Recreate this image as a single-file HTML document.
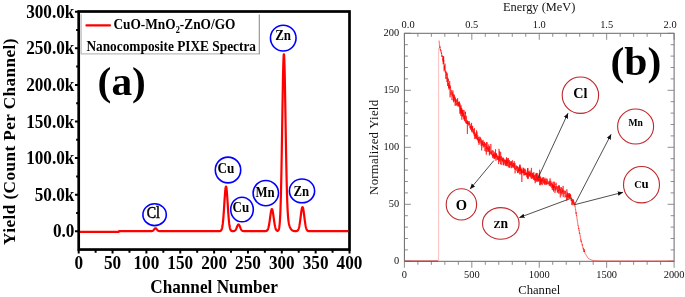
<!DOCTYPE html><html><head><meta charset="utf-8"><style>
html,body{margin:0;padding:0;background:#fff;width:685px;height:297px;overflow:hidden}
svg{display:block;will-change:transform}
.b{font-family:"Liberation Serif",serif;font-weight:bold;fill:#000}
.r{font-family:"Liberation Serif",serif;fill:#111}
.k{font-family:"Liberation Serif",serif;fill:#000;stroke:#000;stroke-width:0.45}
</style></head><body>
<svg width="685" height="297" viewBox="0 0 685 297">
<rect x="78.70" y="11.5" width="270.80" height="238.05" fill="none" stroke="#000" stroke-width="2.7"/>
<path d="M74.95,231.30H78.7 M76.15,213.00H78.7 M74.95,194.70H78.7 M76.15,176.40H78.7 M74.95,158.10H78.7 M76.15,139.80H78.7 M74.95,121.50H78.7 M76.15,103.20H78.7 M74.95,84.90H78.7 M76.15,66.60H78.7 M74.95,48.30H78.7 M76.15,30.00H78.7 M74.95,11.70H78.7" stroke="#000" stroke-width="2" fill="none"/>
<path d="M78.70,249.55V253.40 M95.62,249.55V252.70 M112.55,249.55V253.40 M129.47,249.55V252.70 M146.40,249.55V253.40 M163.32,249.55V252.70 M180.25,249.55V253.40 M197.18,249.55V252.70 M214.10,249.55V253.40 M231.02,249.55V252.70 M247.95,249.55V253.40 M264.88,249.55V252.70 M281.80,249.55V253.40 M298.73,249.55V252.70 M315.65,249.55V253.40 M332.57,249.55V252.70 M349.50,249.55V253.40" stroke="#000" stroke-width="2" fill="none"/>
<text class="b" transform="translate(74.40,237.30) scale(1,1.14)" font-size="17.2" text-anchor="end">0.0</text>
<text class="b" transform="translate(74.40,200.70) scale(1,1.14)" font-size="17.2" text-anchor="end">50.0k</text>
<text class="b" transform="translate(74.40,164.10) scale(1,1.14)" font-size="17.2" text-anchor="end">100.0k</text>
<text class="b" transform="translate(74.40,127.50) scale(1,1.14)" font-size="17.2" text-anchor="end">150.0k</text>
<text class="b" transform="translate(74.40,90.90) scale(1,1.14)" font-size="17.2" text-anchor="end">200.0k</text>
<text class="b" transform="translate(74.40,54.30) scale(1,1.14)" font-size="17.2" text-anchor="end">250.0k</text>
<text class="b" transform="translate(74.40,17.70) scale(1,1.14)" font-size="17.2" text-anchor="end">300.0k</text>
<text class="b" transform="translate(78.70,269.10) scale(1,1.14)" font-size="17.2" text-anchor="middle">0</text>
<text class="b" transform="translate(112.55,269.10) scale(1,1.14)" font-size="17.2" text-anchor="middle">50</text>
<text class="b" transform="translate(146.40,269.10) scale(1,1.14)" font-size="17.2" text-anchor="middle">100</text>
<text class="b" transform="translate(180.25,269.10) scale(1,1.14)" font-size="17.2" text-anchor="middle">150</text>
<text class="b" transform="translate(214.10,269.10) scale(1,1.14)" font-size="17.2" text-anchor="middle">200</text>
<text class="b" transform="translate(247.95,269.10) scale(1,1.14)" font-size="17.2" text-anchor="middle">250</text>
<text class="b" transform="translate(281.80,269.10) scale(1,1.14)" font-size="17.2" text-anchor="middle">300</text>
<text class="b" transform="translate(315.65,269.10) scale(1,1.14)" font-size="17.2" text-anchor="middle">350</text>
<text class="b" transform="translate(349.50,269.10) scale(1,1.14)" font-size="17.2" text-anchor="middle">400</text>
<text class="b" transform="translate(214.00,292.90) scale(1,1.14)" font-size="17.2" text-anchor="middle">Channel Number</text>
<text class="b" transform="translate(15.0,141.7) rotate(-90)" font-size="17.2" text-anchor="middle" textLength="206.5" lengthAdjust="spacing">Yield (Count Per Channel)</text>
<path d="M81.1,14.3 V53.9 H259.3" stroke="#bdbdbd" stroke-width="1.3" fill="none"/>
<path d="M259.3,14.5 V54.2" stroke="#8e8e8e" stroke-width="1.1" fill="none"/>
<path d="M86.4,25.4 H110" stroke="#f00" stroke-width="2.1" stroke-linecap="round"/>
<text class="b" transform="translate(113.40,28.90) scale(1,1.17)" font-size="13.35" text-anchor="start">CuO-MnO<tspan font-size="8.3" dy="3.4">2</tspan><tspan dy="-3.4">-ZnO/GO</tspan></text>
<text class="b" transform="translate(86.40,50.50) scale(1,1.14)" font-size="13.35" text-anchor="start">Nanocomposite PIXE Spectra</text>
<text class="b" transform="translate(97.6,94.9) scale(1.035,1)" font-size="40">(a)</text>
<path d="M80.00,231.90 L80.25,231.90 L80.50,231.90 L80.75,231.90 L81.00,231.90 L81.25,231.90 L81.50,231.90 L81.75,231.90 L82.00,231.90 L82.25,231.90 L82.50,231.90 L82.75,231.90 L83.00,231.90 L83.25,231.90 L83.50,231.90 L83.75,231.90 L84.00,231.90 L84.25,231.90 L84.50,231.90 L84.75,231.90 L85.00,231.90 L85.25,231.90 L85.50,231.90 L85.75,231.90 L86.00,231.90 L86.25,231.90 L86.50,231.90 L86.75,231.90 L87.00,231.90 L87.25,231.90 L87.50,231.90 L87.75,231.90 L88.00,231.90 L88.25,231.90 L88.50,231.90 L88.75,231.90 L89.00,231.90 L89.25,231.90 L89.50,231.90 L89.75,231.90 L90.00,231.90 L90.25,231.90 L90.50,231.90 L90.75,231.90 L91.00,231.90 L91.25,231.90 L91.50,231.90 L91.75,231.90 L92.00,231.90 L92.25,231.90 L92.50,231.90 L92.75,231.90 L93.00,231.90 L93.25,231.90 L93.50,231.90 L93.75,231.90 L94.00,231.90 L94.25,231.90 L94.50,231.90 L94.75,231.90 L95.00,231.90 L95.25,231.90 L95.50,231.90 L95.75,231.90 L96.00,231.90 L96.25,231.90 L96.50,231.90 L96.75,231.90 L97.00,231.90 L97.25,231.90 L97.50,231.90 L97.75,231.90 L98.00,231.90 L98.25,231.90 L98.50,231.90 L98.75,231.90 L99.00,231.90 L99.25,231.90 L99.50,231.90 L99.75,231.90 L100.00,231.90 L100.25,231.90 L100.50,231.90 L100.75,231.90 L101.00,231.90 L101.25,231.90 L101.50,231.90 L101.75,231.90 L102.00,231.90 L102.25,231.90 L102.50,231.90 L102.75,231.90 L103.00,231.90 L103.25,231.90 L103.50,231.90 L103.75,231.90 L104.00,231.90 L104.25,231.90 L104.50,231.90 L104.75,231.90 L105.00,231.90 L105.25,231.90 L105.50,231.90 L105.75,231.90 L106.00,231.90 L106.25,231.90 L106.50,231.90 L106.75,231.90 L107.00,231.90 L107.25,231.90 L107.50,231.90 L107.75,231.90 L108.00,231.90 L108.25,231.90 L108.50,231.90 L108.75,231.90 L109.00,231.90 L109.25,231.90 L109.50,231.90 L109.75,231.90 L110.00,231.90 L110.25,231.90 L110.50,231.90 L110.75,231.90 L111.00,231.90 L111.25,231.90 L111.50,231.90 L111.75,231.90 L112.00,231.90 L112.25,231.90 L112.50,231.90 L112.75,231.90 L113.00,231.90 L113.25,231.90 L113.50,231.90 L113.75,231.90 L114.00,231.90 L114.25,231.90 L114.50,231.90 L114.75,231.90 L115.00,231.90 L115.25,231.90 L115.50,231.90 L115.75,231.90 L116.00,231.90 L116.25,231.90 L116.50,231.90 L116.75,231.90 L117.00,231.90 L117.25,231.90 L117.50,231.90 L117.75,231.90 L118.00,231.90 L118.25,231.90 L118.50,231.90 L118.75,231.90 L119.00,231.15 L119.25,231.15 L119.50,231.15 L119.75,231.15 L120.00,231.15 L120.25,231.15 L120.50,231.15 L120.75,231.15 L121.00,231.15 L121.25,231.15 L121.50,231.15 L121.75,231.15 L122.00,231.15 L122.25,231.15 L122.50,231.15 L122.75,231.15 L123.00,231.15 L123.25,231.15 L123.50,231.15 L123.75,231.15 L124.00,231.15 L124.25,231.15 L124.50,231.15 L124.75,231.15 L125.00,231.15 L125.25,231.15 L125.50,231.15 L125.75,231.15 L126.00,231.15 L126.25,231.15 L126.50,231.15 L126.75,231.15 L127.00,231.15 L127.25,231.15 L127.50,231.15 L127.75,231.15 L128.00,231.15 L128.25,231.15 L128.50,231.15 L128.75,231.15 L129.00,231.15 L129.25,231.15 L129.50,231.15 L129.75,231.15 L130.00,231.15 L130.25,231.15 L130.50,231.15 L130.75,231.15 L131.00,231.15 L131.25,231.15 L131.50,231.15 L131.75,231.15 L132.00,231.15 L132.25,231.15 L132.50,231.15 L132.75,231.15 L133.00,231.15 L133.25,231.15 L133.50,231.15 L133.75,231.15 L134.00,231.15 L134.25,231.15 L134.50,231.15 L134.75,231.15 L135.00,231.15 L135.25,231.15 L135.50,231.15 L135.75,231.15 L136.00,231.15 L136.25,231.15 L136.50,231.15 L136.75,231.15 L137.00,231.15 L137.25,231.15 L137.50,231.15 L137.75,231.15 L138.00,231.15 L138.25,231.15 L138.50,231.15 L138.75,231.15 L139.00,231.15 L139.25,231.15 L139.50,231.15 L139.75,231.15 L140.00,231.15 L140.25,231.15 L140.50,231.15 L140.75,231.15 L141.00,231.15 L141.25,231.15 L141.50,231.15 L141.75,231.15 L142.00,231.15 L142.25,231.15 L142.50,231.15 L142.75,231.15 L143.00,231.15 L143.25,231.15 L143.50,231.15 L143.75,231.15 L144.00,231.15 L144.25,231.15 L144.50,231.15 L144.75,231.15 L145.00,231.15 L145.25,231.15 L145.50,231.15 L145.75,231.15 L146.00,231.15 L146.25,231.15 L146.50,231.15 L146.75,231.15 L147.00,231.15 L147.25,231.15 L147.50,231.15 L147.75,231.15 L148.00,231.15 L148.25,231.15 L148.50,231.15 L148.75,231.15 L149.00,231.15 L149.25,231.15 L149.50,231.15 L149.75,231.15 L150.00,231.15 L150.25,231.15 L150.50,231.15 L150.75,231.14 L151.00,231.13 L151.25,231.12 L151.50,231.10 L151.75,231.07 L152.00,231.02 L152.25,230.95 L152.50,230.86 L152.75,230.73 L153.00,230.56 L153.25,230.35 L153.50,230.10 L153.75,229.82 L154.00,229.52 L154.25,229.20 L154.50,228.90 L154.75,228.64 L155.00,228.43 L155.25,228.30 L155.50,228.25 L155.75,228.30 L156.00,228.43 L156.25,228.64 L156.50,228.90 L156.75,229.20 L157.00,229.52 L157.25,229.82 L157.50,230.10 L157.75,230.35 L158.00,230.56 L158.25,230.73 L158.50,230.86 L158.75,230.95 L159.00,231.02 L159.25,231.07 L159.50,231.10 L159.75,231.12 L160.00,231.13 L160.25,231.14 L160.50,231.15 L160.75,231.15 L161.00,231.15 L161.25,231.15 L161.50,231.15 L161.75,231.15 L162.00,231.15 L162.25,231.15 L162.50,231.15 L162.75,231.15 L163.00,231.15 L163.25,231.15 L163.50,231.15 L163.75,231.15 L164.00,231.15 L164.25,231.15 L164.50,231.15 L164.75,231.15 L165.00,231.15 L165.25,231.15 L165.50,231.15 L165.75,231.15 L166.00,231.15 L166.25,231.15 L166.50,231.15 L166.75,231.15 L167.00,231.15 L167.25,231.15 L167.50,231.15 L167.75,231.15 L168.00,231.15 L168.25,231.15 L168.50,231.15 L168.75,231.15 L169.00,231.15 L169.25,231.15 L169.50,231.15 L169.75,231.15 L170.00,231.15 L170.25,231.15 L170.50,231.15 L170.75,231.15 L171.00,231.15 L171.25,231.15 L171.50,231.15 L171.75,231.15 L172.00,231.15 L172.25,231.15 L172.50,231.15 L172.75,231.15 L173.00,231.15 L173.25,231.15 L173.50,231.15 L173.75,231.15 L174.00,231.15 L174.25,231.15 L174.50,231.15 L174.75,231.15 L175.00,231.15 L175.25,231.15 L175.50,231.15 L175.75,231.15 L176.00,231.15 L176.25,231.15 L176.50,231.15 L176.75,231.15 L177.00,231.15 L177.25,231.15 L177.50,231.15 L177.75,231.15 L178.00,231.15 L178.25,231.15 L178.50,231.15 L178.75,231.15 L179.00,231.15 L179.25,231.15 L179.50,231.15 L179.75,231.15 L180.00,231.15 L180.25,231.15 L180.50,231.15 L180.75,231.15 L181.00,231.15 L181.25,231.15 L181.50,231.15 L181.75,231.15 L182.00,231.15 L182.25,231.15 L182.50,231.15 L182.75,231.15 L183.00,231.15 L183.25,231.15 L183.50,231.15 L183.75,231.15 L184.00,231.15 L184.25,231.15 L184.50,231.15 L184.75,231.15 L185.00,231.15 L185.25,231.15 L185.50,231.15 L185.75,231.15 L186.00,231.15 L186.25,231.15 L186.50,231.15 L186.75,231.15 L187.00,231.15 L187.25,231.15 L187.50,231.15 L187.75,231.15 L188.00,231.15 L188.25,231.15 L188.50,231.15 L188.75,231.15 L189.00,231.15 L189.25,231.15 L189.50,231.15 L189.75,231.15 L190.00,231.15 L190.25,231.15 L190.50,231.15 L190.75,231.15 L191.00,231.15 L191.25,231.15 L191.50,231.15 L191.75,231.15 L192.00,231.15 L192.25,231.15 L192.50,231.15 L192.75,231.15 L193.00,231.15 L193.25,231.15 L193.50,231.15 L193.75,231.15 L194.00,231.15 L194.25,231.15 L194.50,231.15 L194.75,231.15 L195.00,231.15 L195.25,231.15 L195.50,231.15 L195.75,231.15 L196.00,231.15 L196.25,231.15 L196.50,231.15 L196.75,231.15 L197.00,231.15 L197.25,231.15 L197.50,231.15 L197.75,231.15 L198.00,231.15 L198.25,231.15 L198.50,231.15 L198.75,231.15 L199.00,231.15 L199.25,231.15 L199.50,231.15 L199.75,231.15 L200.00,231.15 L200.25,231.15 L200.50,231.15 L200.75,231.15 L201.00,231.15 L201.25,231.15 L201.50,231.15 L201.75,231.15 L202.00,231.15 L202.25,231.15 L202.50,231.15 L202.75,231.15 L203.00,231.15 L203.25,231.15 L203.50,231.15 L203.75,231.15 L204.00,231.15 L204.25,231.15 L204.50,231.15 L204.75,231.15 L205.00,231.15 L205.25,231.15 L205.50,231.15 L205.75,231.15 L206.00,231.15 L206.25,231.15 L206.50,231.15 L206.75,231.15 L207.00,231.15 L207.25,231.15 L207.50,231.15 L207.75,231.15 L208.00,231.15 L208.25,231.15 L208.50,231.15 L208.75,231.15 L209.00,231.15 L209.25,231.15 L209.50,231.15 L209.75,231.15 L210.00,231.15 L210.25,231.15 L210.50,231.15 L210.75,231.15 L211.00,231.15 L211.25,231.15 L211.50,231.15 L211.75,231.15 L212.00,231.15 L212.25,231.15 L212.50,231.15 L212.75,231.15 L213.00,231.15 L213.25,231.15 L213.50,231.15 L213.75,231.15 L214.00,231.15 L214.25,231.15 L214.50,231.15 L214.75,231.15 L215.00,231.15 L215.25,231.15 L215.50,231.15 L215.75,231.15 L216.00,231.15 L216.25,231.15 L216.50,231.15 L216.75,231.15 L217.00,231.15 L217.25,231.15 L217.50,231.15 L217.75,231.15 L218.00,231.15 L218.25,231.15 L218.50,231.15 L218.75,231.14 L219.00,231.14 L219.25,231.13 L219.50,231.12 L219.75,231.10 L220.00,231.06 L220.25,231.00 L220.50,230.91 L220.75,230.77 L221.00,230.56 L221.25,230.25 L221.50,229.81 L221.75,229.19 L222.00,228.35 L222.25,227.24 L222.50,225.79 L222.75,223.98 L223.00,221.75 L223.25,219.10 L223.50,216.02 L223.75,212.57 L224.00,208.83 L224.25,204.89 L224.50,200.93 L224.75,197.11 L225.00,193.64 L225.25,190.69 L225.50,188.44 L225.75,187.03 L226.00,186.55 L226.25,187.03 L226.50,188.44 L226.75,190.69 L227.00,193.64 L227.25,197.11 L227.50,200.93 L227.75,204.89 L228.00,208.83 L228.25,212.57 L228.50,216.02 L228.75,219.10 L229.00,221.75 L229.25,223.98 L229.50,225.79 L229.75,227.24 L230.00,228.35 L230.25,229.19 L230.50,229.81 L230.75,230.25 L231.00,230.56 L231.25,230.77 L231.50,230.91 L231.75,231.00 L232.00,231.06 L232.25,231.09 L232.50,231.11 L232.75,231.12 L233.00,231.12 L233.25,231.11 L233.50,231.10 L233.75,231.07 L234.00,231.02 L234.25,230.95 L234.50,230.86 L234.75,230.72 L235.00,230.54 L235.25,230.30 L235.50,229.99 L235.75,229.62 L236.00,229.17 L236.25,228.66 L236.50,228.08 L236.75,227.47 L237.00,226.83 L237.25,226.21 L237.50,225.64 L237.75,225.15 L238.00,224.77 L238.25,224.53 L238.50,224.45 L238.75,224.53 L239.00,224.77 L239.25,225.15 L239.50,225.64 L239.75,226.21 L240.00,226.83 L240.25,227.47 L240.50,228.08 L240.75,228.66 L241.00,229.17 L241.25,229.62 L241.50,229.99 L241.75,230.30 L242.00,230.54 L242.25,230.72 L242.50,230.86 L242.75,230.95 L243.00,231.02 L243.25,231.07 L243.50,231.10 L243.75,231.12 L244.00,231.13 L244.25,231.14 L244.50,231.14 L244.75,231.15 L245.00,231.15 L245.25,231.15 L245.50,231.15 L245.75,231.15 L246.00,231.15 L246.25,231.15 L246.50,231.15 L246.75,231.15 L247.00,231.15 L247.25,231.15 L247.50,231.15 L247.75,231.15 L248.00,231.15 L248.25,231.15 L248.50,231.15 L248.75,231.15 L249.00,231.15 L249.25,231.15 L249.50,231.15 L249.75,231.15 L250.00,231.15 L250.25,231.15 L250.50,231.15 L250.75,231.15 L251.00,231.15 L251.25,231.15 L251.50,231.15 L251.75,231.15 L252.00,231.15 L252.25,231.15 L252.50,231.15 L252.75,231.15 L253.00,231.15 L253.25,231.15 L253.50,231.15 L253.75,231.15 L254.00,231.15 L254.25,231.15 L254.50,231.15 L254.75,231.15 L255.00,231.15 L255.25,231.15 L255.50,231.15 L255.75,231.15 L256.00,231.15 L256.25,231.15 L256.50,231.15 L256.75,231.15 L257.00,231.15 L257.25,231.15 L257.50,231.15 L257.75,231.15 L258.00,231.15 L258.25,231.15 L258.50,231.15 L258.75,231.15 L259.00,231.15 L259.25,231.15 L259.50,231.15 L259.75,231.15 L260.00,231.15 L260.25,231.15 L260.50,231.15 L260.75,231.15 L261.00,231.15 L261.25,231.15 L261.50,231.15 L261.75,231.15 L262.00,231.15 L262.25,231.15 L262.50,231.15 L262.75,231.15 L263.00,231.15 L263.25,231.15 L263.50,231.15 L263.75,231.15 L264.00,231.15 L264.25,231.15 L264.50,231.15 L264.75,231.14 L265.00,231.14 L265.25,231.13 L265.50,231.11 L265.75,231.09 L266.00,231.05 L266.25,230.99 L266.50,230.90 L266.75,230.78 L267.00,230.61 L267.25,230.36 L267.50,230.04 L267.75,229.60 L268.00,229.04 L268.25,228.32 L268.50,227.44 L268.75,226.37 L269.00,225.11 L269.25,223.67 L269.50,222.06 L269.75,220.32 L270.00,218.49 L270.25,216.63 L270.50,214.82 L270.75,213.13 L271.00,211.65 L271.25,210.44 L271.50,209.59 L271.75,209.13 L272.00,209.08 L272.25,209.46 L272.50,210.24 L272.75,211.38 L273.00,212.81 L273.25,214.47 L273.50,216.26 L273.75,218.12 L274.00,219.96 L274.25,221.73 L274.50,223.36 L274.75,224.84 L275.00,226.13 L275.25,227.24 L275.50,228.16 L275.75,228.90 L276.00,229.49 L276.25,229.95 L276.50,230.29 L276.75,230.54 L277.00,230.71 L277.25,230.81 L277.50,230.85 L277.75,230.82 L278.00,230.71 L278.25,230.50 L278.50,230.15 L278.75,229.58 L279.00,228.71 L279.25,227.43 L279.50,225.58 L279.75,222.99 L280.00,219.45 L280.25,214.74 L280.50,208.64 L280.75,200.95 L281.00,191.53 L281.25,180.33 L281.50,167.41 L281.75,153.01 L282.00,137.49 L282.25,121.41 L282.50,105.44 L282.75,90.38 L283.00,77.03 L283.25,66.18 L283.50,58.49 L283.75,54.45 L284.00,54.30 L284.25,58.03 L284.50,65.35 L284.75,75.77 L285.00,88.60 L285.25,103.07 L285.50,118.37 L285.75,133.75 L286.00,148.56 L286.25,162.28 L286.50,174.57 L286.75,185.25 L287.00,194.26 L287.25,201.68 L287.50,207.65 L287.75,212.35 L288.00,216.01 L288.25,218.83 L288.50,220.99 L288.75,222.67 L289.00,223.98 L289.25,225.02 L289.50,225.88 L289.75,226.60 L290.00,227.23 L290.25,227.77 L290.50,228.25 L290.75,228.68 L291.00,229.06 L291.25,229.39 L291.50,229.68 L291.75,229.94 L292.00,230.16 L292.25,230.34 L292.50,230.50 L292.75,230.63 L293.00,230.74 L293.25,230.83 L293.50,230.90 L293.75,230.96 L294.00,231.00 L294.25,231.04 L294.50,231.07 L294.75,231.09 L295.00,231.10 L295.25,231.11 L295.50,231.11 L295.75,231.11 L296.00,231.10 L296.25,231.08 L296.50,231.05 L296.75,231.00 L297.00,230.92 L297.25,230.81 L297.50,230.64 L297.75,230.41 L298.00,230.09 L298.25,229.67 L298.50,229.11 L298.75,228.40 L299.00,227.51 L299.25,226.43 L299.50,225.14 L299.75,223.65 L300.00,221.96 L300.25,220.12 L300.50,218.15 L300.75,216.13 L301.00,214.12 L301.25,212.21 L301.50,210.50 L301.75,209.05 L302.00,207.96 L302.25,207.28 L302.50,207.05 L302.75,207.28 L303.00,207.96 L303.25,209.05 L303.50,210.50 L303.75,212.21 L304.00,214.12 L304.25,216.13 L304.50,218.15 L304.75,220.12 L305.00,221.96 L305.25,223.65 L305.50,225.14 L305.75,226.43 L306.00,227.51 L306.25,228.40 L306.50,229.11 L306.75,229.67 L307.00,230.09 L307.25,230.41 L307.50,230.64 L307.75,230.81 L308.00,230.92 L308.25,231.00 L308.50,231.06 L308.75,231.09 L309.00,231.11 L309.25,231.13 L309.50,231.14 L309.75,231.14 L310.00,231.15 L310.25,231.15 L310.50,231.15 L310.75,231.15 L311.00,231.15 L311.25,231.15 L311.50,231.15 L311.75,231.15 L312.00,231.15 L312.25,231.15 L312.50,231.15 L312.75,231.15 L313.00,231.15 L313.25,231.15 L313.50,231.15 L313.75,231.15 L314.00,231.15 L314.25,231.15 L314.50,231.15 L314.75,231.15 L315.00,231.15 L315.25,231.15 L315.50,231.15 L315.75,231.15 L316.00,231.15 L316.25,231.15 L316.50,231.15 L316.75,231.15 L317.00,231.15 L317.25,231.15 L317.50,231.15 L317.75,231.15 L318.00,231.15 L318.25,231.15 L318.50,231.15 L318.75,231.15 L319.00,231.15 L319.25,231.15 L319.50,231.15 L319.75,231.15 L320.00,231.15 L320.25,231.15 L320.50,231.15 L320.75,231.15 L321.00,231.15 L321.25,231.15 L321.50,231.15 L321.75,231.15 L322.00,231.15 L322.25,231.15 L322.50,231.15 L322.75,231.15 L323.00,231.15 L323.25,231.15 L323.50,231.15 L323.75,231.15 L324.00,231.15 L324.25,231.15 L324.50,231.15 L324.75,231.15 L325.00,231.15 L325.25,231.15 L325.50,231.15 L325.75,231.15 L326.00,231.15 L326.25,231.15 L326.50,231.15 L326.75,231.15 L327.00,231.15 L327.25,231.15 L327.50,231.15 L327.75,231.15 L328.00,231.15 L328.25,231.15 L328.50,231.15 L328.75,231.15 L329.00,231.15 L329.25,231.15 L329.50,231.15 L329.75,231.15 L330.00,231.15 L330.25,231.15 L330.50,231.15 L330.75,231.15 L331.00,231.15 L331.25,231.15 L331.50,231.15 L331.75,231.15 L332.00,231.15 L332.25,231.15 L332.50,231.15 L332.75,231.15 L333.00,231.15 L333.25,231.15 L333.50,231.15 L333.75,231.15 L334.00,231.15 L334.25,231.15 L334.50,231.15 L334.75,231.15 L335.00,231.15 L335.25,231.15 L335.50,231.15 L335.75,231.15 L336.00,231.15 L336.25,231.15 L336.50,231.15 L336.75,231.15 L337.00,231.15 L337.25,231.15 L337.50,231.15 L337.75,231.15 L338.00,231.15 L338.25,231.15 L338.50,231.15 L338.75,231.15 L339.00,231.15 L339.25,231.15 L339.50,231.15 L339.75,231.15 L340.00,231.15 L340.25,231.15 L340.50,231.15 L340.75,231.15 L341.00,231.15 L341.25,231.15 L341.50,231.15 L341.75,231.15 L342.00,231.15 L342.25,231.15 L342.50,231.15 L342.75,231.15 L343.00,231.15 L343.25,231.15 L343.50,231.15 L343.75,231.15 L344.00,231.15 L344.25,231.15 L344.50,231.15 L344.75,231.15 L345.00,231.15 L345.25,231.15 L345.50,231.15 L345.75,231.15 L346.00,231.15 L346.25,231.15 L346.50,231.15 L346.75,231.15 L347.00,231.15 L347.25,231.15 L347.50,231.15 L347.75,231.15 L348.00,231.15 L348.25,231.15" stroke="#f00" stroke-width="2.2" fill="none" stroke-linejoin="round"/>
<ellipse cx="283.25" cy="38.1" rx="12.8" ry="12.9" fill="#fff" stroke="#0000ff" stroke-width="1.6"/>
<text class="b" transform="translate(283.15,39.90) scale(1,1.14)" font-size="13.0" text-anchor="middle">Zn</text>
<ellipse cx="228.0" cy="170.0" rx="12.7" ry="12.9" fill="#fff" stroke="#0000ff" stroke-width="1.6"/>
<text class="b" transform="translate(226.00,172.50) scale(1,1.14)" font-size="13.2" text-anchor="middle">Cu</text>
<ellipse cx="242.0" cy="209.5" rx="11.3" ry="12.3" fill="#fff" stroke="#0000ff" stroke-width="1.6"/>
<text class="b" transform="translate(240.80,211.90) scale(1,1.14)" font-size="13.0" text-anchor="middle">Cu</text>
<ellipse cx="265.8" cy="193.1" rx="12.7" ry="12.6" fill="#fff" stroke="#0000ff" stroke-width="1.6"/>
<text class="b" transform="translate(265.00,196.70) scale(1,1.14)" font-size="12.8" text-anchor="middle">Mn</text>
<ellipse cx="302.0" cy="190.9" rx="12.6" ry="11.9" fill="#fff" stroke="#0000ff" stroke-width="1.6"/>
<text class="b" transform="translate(301.30,195.50) scale(1,1.14)" font-size="12.8" text-anchor="middle">Zn</text>
<ellipse cx="154.6" cy="214.7" rx="11.7" ry="10.9" fill="#fff" stroke="#0000ff" stroke-width="1.6"/>
<text class="k" transform="translate(153.30,218.20) scale(1,1.14)" font-size="14.0" text-anchor="middle">Cl</text>
<rect x="404.4" y="33.3" width="269.70" height="228.00" fill="none" stroke="#686868" stroke-width="1"/>
<path d="M404.40,33.3v6.5 M404.40,261.3v6.5 M417.88,33.3v3.5 M417.88,261.3v3.5 M431.37,33.3v3.5 M431.37,261.3v3.5 M444.85,33.3v3.5 M444.85,261.3v3.5 M458.34,33.3v3.5 M458.34,261.3v3.5 M471.82,33.3v6.5 M471.82,261.3v6.5 M485.31,33.3v3.5 M485.31,261.3v3.5 M498.79,33.3v3.5 M498.79,261.3v3.5 M512.28,33.3v3.5 M512.28,261.3v3.5 M525.76,33.3v3.5 M525.76,261.3v3.5 M539.25,33.3v6.5 M539.25,261.3v6.5 M552.74,33.3v3.5 M552.74,261.3v3.5 M566.22,33.3v3.5 M566.22,261.3v3.5 M579.71,33.3v3.5 M579.71,261.3v3.5 M593.19,33.3v3.5 M593.19,261.3v3.5 M606.67,33.3v6.5 M606.67,261.3v6.5 M620.16,33.3v3.5 M620.16,261.3v3.5 M633.64,33.3v3.5 M633.64,261.3v3.5 M647.13,33.3v3.5 M647.13,261.3v3.5 M660.62,33.3v3.5 M660.62,261.3v3.5 M674.10,33.3v6.5 M674.10,261.3v6.5 M404.4,261.30h6.5 M674.1,261.30h-6.5 M404.4,249.90h3.5 M674.1,249.90h-3.5 M404.4,238.50h3.5 M674.1,238.50h-3.5 M404.4,227.10h3.5 M674.1,227.10h-3.5 M404.4,215.70h3.5 M674.1,215.70h-3.5 M404.4,204.30h6.5 M674.1,204.30h-6.5 M404.4,192.90h3.5 M674.1,192.90h-3.5 M404.4,181.50h3.5 M674.1,181.50h-3.5 M404.4,170.10h3.5 M674.1,170.10h-3.5 M404.4,158.70h3.5 M674.1,158.70h-3.5 M404.4,147.30h6.5 M674.1,147.30h-6.5 M404.4,135.90h3.5 M674.1,135.90h-3.5 M404.4,124.50h3.5 M674.1,124.50h-3.5 M404.4,113.10h3.5 M674.1,113.10h-3.5 M404.4,101.70h3.5 M674.1,101.70h-3.5 M404.4,90.30h6.5 M674.1,90.30h-6.5 M404.4,78.90h3.5 M674.1,78.90h-3.5 M404.4,67.50h3.5 M674.1,67.50h-3.5 M404.4,56.10h3.5 M674.1,56.10h-3.5 M404.4,44.70h3.5 M674.1,44.70h-3.5 M404.4,33.30h6.5 M674.1,33.30h-6.5" stroke="#7a7a7a" stroke-width="0.85" fill="none"/>
<text class="r" x="408.10" y="27.5" font-size="10.4" text-anchor="middle">0.0</text>
<text class="r" x="471.82" y="27.5" font-size="10.4" text-anchor="middle">0.5</text>
<text class="r" x="539.25" y="27.5" font-size="10.4" text-anchor="middle">1.0</text>
<text class="r" x="606.67" y="27.5" font-size="10.4" text-anchor="middle">1.5</text>
<text class="r" x="670.10" y="27.5" font-size="10.4" text-anchor="middle">2.0</text>
<text class="r" x="404.40" y="278.3" font-size="10.4" text-anchor="middle">0</text>
<text class="r" x="471.82" y="278.3" font-size="10.4" text-anchor="middle">500</text>
<text class="r" x="539.25" y="278.3" font-size="10.4" text-anchor="middle">1000</text>
<text class="r" x="606.67" y="278.3" font-size="10.4" text-anchor="middle">1500</text>
<text class="r" x="674.10" y="278.3" font-size="10.4" text-anchor="middle">2000</text>
<text class="r" x="399.2" y="264.40" font-size="10.4" text-anchor="end">0</text>
<text class="r" x="399.2" y="207.40" font-size="10.4" text-anchor="end">50</text>
<text class="r" x="399.2" y="150.40" font-size="10.4" text-anchor="end">100</text>
<text class="r" x="399.2" y="93.40" font-size="10.4" text-anchor="end">150</text>
<text class="r" x="399.2" y="36.40" font-size="10.4" text-anchor="end">200</text>
<text class="r" x="539.2" y="10.5" font-size="12.4" text-anchor="middle">Energy (MeV)</text>
<text class="r" x="539.3" y="293.5" font-size="12.6" text-anchor="middle">Channel</text>
<text class="r" transform="translate(378.4,147.4) rotate(-90)" font-size="12.8" text-anchor="middle" textLength="95" lengthAdjust="spacing">Normalized Yield</text>
<text class="b" transform="translate(610.5,75.4) scale(1.04,1)" font-size="40">(b)</text>
<path d="M404.9,261.1 H438.6" stroke="#c83030" stroke-width="1.1"/>
<path d="M438.6,261.3 V48" stroke="#f7b8b8" stroke-width="0.9"/>
<path d="M439.06,40.50 L439.19,42.04 L439.33,44.07 L439.46,45.96 L439.60,46.06 L439.73,47.44 L439.87,48.07 L440.00,46.33 L440.14,49.94 L440.27,49.92 L440.40,48.97 L440.54,49.94 L440.67,51.16 L440.81,50.74 L440.94,51.30 L441.08,50.46 L441.21,53.29 L441.35,53.34 L441.48,54.05 L441.62,52.53 L441.75,56.70 L441.89,55.53 L442.02,55.45 L442.16,55.26 L442.29,56.92 L442.43,55.86 L442.56,57.59 L442.70,60.09 L442.83,61.30 L442.97,60.84 L443.10,57.81 L443.24,64.36 L443.37,56.25 L443.51,64.00 L443.64,56.29 L443.78,61.51 L443.91,60.45 L444.05,69.75 L444.18,71.35 L444.32,65.16 L444.45,69.51 L444.59,66.79 L444.72,69.78 L444.85,66.09 L444.99,63.58 L445.12,63.85 L445.26,71.51 L445.39,73.33 L445.53,72.37 L445.66,70.42 L445.80,78.90 L445.93,74.10 L446.07,74.28 L446.20,75.38 L446.34,74.75 L446.47,74.79 L446.61,71.77 L446.74,78.63 L446.88,77.32 L447.01,82.09 L447.15,77.66 L447.28,73.31 L447.42,79.73 L447.55,85.94 L447.69,79.61 L447.82,78.37 L447.96,77.78 L448.09,78.64 L448.23,81.46 L448.36,79.02 L448.50,88.06 L448.63,82.71 L448.77,84.37 L448.90,89.06 L449.04,89.67 L449.17,84.52 L449.31,86.68 L449.44,88.37 L449.57,85.77 L449.71,81.05 L449.84,89.30 L449.98,90.47 L450.11,97.39 L450.25,85.40 L450.38,88.14 L450.52,87.26 L450.65,88.60 L450.79,94.15 L450.92,95.23 L451.06,92.78 L451.19,92.71 L451.33,93.44 L451.46,91.54 L451.60,91.65 L451.73,90.04 L451.87,92.36 L452.00,100.16 L452.14,95.99 L452.27,92.40 L452.41,92.30 L452.54,95.37 L452.68,95.68 L452.81,96.05 L452.95,90.45 L453.08,97.00 L453.22,93.91 L453.35,100.68 L453.49,96.90 L453.62,102.26 L453.76,95.56 L453.89,96.43 L454.02,98.65 L454.16,101.41 L454.29,100.15 L454.43,94.66 L454.56,99.55 L454.70,99.36 L454.83,98.22 L454.97,96.75 L455.10,105.82 L455.24,99.14 L455.37,97.89 L455.51,102.90 L455.64,99.86 L455.78,101.05 L455.91,99.05 L456.05,105.49 L456.18,103.14 L456.32,105.31 L456.45,102.52 L456.59,100.65 L456.72,101.70 L456.86,101.41 L456.99,99.34 L457.13,100.06 L457.26,102.85 L457.40,104.28 L457.53,99.90 L457.67,98.14 L457.80,105.87 L457.94,102.60 L458.07,106.72 L458.21,103.63 L458.34,101.94 L458.47,101.77 L458.61,104.35 L458.74,105.36 L458.88,103.81 L459.01,105.78 L459.15,101.95 L459.28,107.19 L459.42,101.57 L459.55,106.96 L459.69,110.07 L459.82,111.57 L459.96,113.80 L460.09,103.46 L460.23,111.16 L460.36,112.83 L460.50,112.33 L460.63,106.39 L460.77,110.94 L460.90,115.84 L461.04,105.24 L461.17,111.88 L461.31,114.21 L461.44,108.63 L461.58,113.04 L461.71,107.96 L461.85,119.73 L461.98,109.32 L462.12,112.85 L462.25,112.21 L462.39,115.85 L462.52,110.00 L462.66,112.89 L462.79,116.68 L462.92,115.66 L463.06,109.84 L463.19,116.54 L463.33,113.11 L463.46,116.17 L463.60,116.17 L463.73,119.41 L463.87,116.11 L464.00,110.02 L464.14,111.85 L464.27,118.91 L464.41,115.98 L464.54,120.76 L464.68,118.24 L464.81,115.21 L464.95,121.39 L465.08,115.56 L465.22,111.80 L465.35,114.19 L465.49,111.78 L465.62,121.30 L465.76,122.55 L465.89,120.26 L466.03,123.28 L466.16,123.50 L466.30,115.76 L466.43,116.26 L466.57,119.62 L466.70,123.53 L466.84,122.14 L466.97,123.98 L467.11,120.11 L467.24,121.18 L467.37,133.93 L467.51,121.09 L467.64,124.22 L467.78,121.52 L467.91,124.22 L468.05,121.02 L468.18,121.14 L468.32,123.37 L468.45,122.81 L468.59,125.54 L468.72,124.39 L468.86,123.60 L468.99,123.48 L469.13,123.65 L469.26,121.21 L469.40,124.83 L469.53,123.54 L469.67,122.74 L469.80,125.16 L469.94,127.83 L470.07,126.84 L470.21,124.37 L470.34,128.67 L470.48,126.53 L470.61,127.51 L470.75,129.76 L470.88,129.88 L471.02,126.10 L471.15,125.86 L471.29,128.25 L471.42,127.37 L471.56,122.90 L471.69,131.58 L471.82,128.47 L471.96,130.60 L472.09,125.76 L472.23,132.53 L472.36,127.77 L472.50,129.28 L472.63,126.07 L472.77,129.59 L472.90,129.65 L473.04,130.00 L473.17,131.89 L473.31,131.12 L473.44,133.78 L473.58,130.17 L473.71,129.00 L473.85,131.83 L473.98,133.78 L474.12,135.65 L474.25,134.74 L474.39,128.11 L474.52,134.04 L474.66,138.83 L474.79,133.67 L474.93,132.36 L475.06,134.78 L475.20,134.64 L475.33,136.12 L475.47,134.62 L475.60,138.59 L475.74,136.45 L475.87,133.42 L476.01,137.19 L476.14,138.30 L476.28,134.53 L476.41,135.14 L476.54,130.37 L476.68,139.14 L476.81,135.40 L476.95,131.55 L477.08,132.73 L477.22,137.07 L477.35,139.92 L477.49,137.89 L477.62,139.61 L477.76,135.66 L477.89,135.25 L478.03,141.39 L478.16,140.48 L478.30,139.23 L478.43,142.86 L478.57,137.07 L478.70,138.62 L478.84,142.61 L478.97,144.91 L479.11,140.18 L479.24,139.89 L479.38,138.84 L479.51,141.46 L479.65,140.27 L479.78,136.65 L479.92,141.70 L480.05,143.63 L480.19,140.90 L480.32,141.25 L480.46,137.59 L480.59,138.40 L480.73,137.88 L480.86,140.26 L480.99,138.96 L481.13,145.87 L481.26,143.25 L481.40,140.27 L481.53,141.08 L481.67,150.46 L481.80,141.37 L481.94,141.11 L482.07,144.09 L482.21,145.12 L482.34,144.15 L482.48,141.29 L482.61,140.76 L482.75,145.57 L482.88,143.98 L483.02,139.90 L483.15,147.52 L483.29,146.61 L483.42,144.05 L483.56,144.14 L483.69,145.59 L483.83,143.29 L483.96,141.67 L484.10,146.26 L484.23,145.22 L484.37,146.72 L484.50,141.99 L484.64,145.70 L484.77,145.75 L484.91,150.99 L485.04,143.56 L485.18,143.18 L485.31,144.96 L485.44,143.83 L485.58,145.39 L485.71,148.22 L485.85,149.30 L485.98,151.80 L486.12,145.57 L486.25,154.69 L486.39,153.08 L486.52,147.41 L486.66,142.00 L486.79,148.01 L486.93,148.57 L487.06,142.40 L487.20,148.85 L487.33,148.27 L487.47,146.85 L487.60,150.75 L487.74,151.90 L487.87,148.07 L488.01,150.12 L488.14,147.89 L488.28,147.67 L488.41,150.10 L488.55,151.40 L488.68,148.64 L488.82,144.38 L488.95,151.95 L489.09,146.27 L489.22,150.97 L489.36,155.50 L489.49,150.85 L489.63,146.43 L489.76,147.26 L489.89,154.39 L490.03,151.36 L490.16,152.97 L490.30,154.12 L490.43,151.65 L490.57,151.09 L490.70,149.52 L490.84,143.96 L490.97,148.25 L491.11,152.23 L491.24,152.07 L491.38,153.74 L491.51,152.46 L491.65,152.68 L491.78,155.14 L491.92,150.82 L492.05,152.54 L492.19,150.19 L492.32,156.14 L492.46,156.07 L492.59,155.11 L492.73,158.03 L492.86,156.93 L493.00,154.02 L493.13,156.41 L493.27,150.63 L493.40,155.72 L493.54,155.06 L493.67,155.24 L493.81,158.68 L493.94,153.20 L494.08,157.01 L494.21,154.20 L494.34,158.09 L494.48,159.07 L494.61,153.49 L494.75,151.76 L494.88,155.60 L495.02,158.34 L495.15,155.22 L495.29,154.70 L495.42,157.76 L495.56,149.24 L495.69,154.94 L495.83,153.16 L495.96,160.74 L496.10,155.09 L496.23,154.15 L496.37,156.24 L496.50,153.35 L496.64,157.28 L496.77,155.57 L496.91,156.45 L497.04,155.61 L497.18,160.02 L497.31,157.37 L497.45,159.12 L497.58,159.07 L497.72,155.71 L497.85,159.44 L497.99,158.92 L498.12,158.89 L498.26,157.07 L498.39,157.06 L498.53,160.35 L498.66,164.13 L498.79,156.19 L498.93,159.89 L499.06,148.84 L499.20,160.69 L499.33,159.83 L499.47,161.55 L499.60,151.37 L499.74,157.27 L499.87,156.31 L500.01,158.72 L500.14,157.15 L500.28,157.43 L500.41,161.02 L500.55,164.33 L500.68,151.83 L500.82,158.58 L500.95,160.31 L501.09,159.56 L501.22,158.69 L501.36,156.08 L501.49,157.24 L501.63,161.74 L501.76,164.76 L501.90,160.21 L502.03,157.79 L502.17,160.33 L502.30,159.50 L502.44,161.66 L502.57,160.59 L502.71,158.68 L502.84,160.91 L502.98,157.33 L503.11,162.71 L503.25,163.74 L503.38,165.00 L503.51,161.84 L503.65,158.15 L503.78,163.70 L503.92,165.47 L504.05,160.36 L504.19,163.69 L504.32,159.96 L504.46,159.46 L504.59,159.72 L504.73,160.92 L504.86,160.50 L505.00,161.83 L505.13,159.85 L505.27,163.59 L505.40,164.33 L505.54,160.36 L505.67,165.88 L505.81,163.73 L505.94,164.90 L506.08,161.50 L506.21,158.58 L506.35,162.77 L506.48,166.18 L506.62,157.20 L506.75,163.53 L506.89,161.49 L507.02,160.11 L507.16,163.77 L507.29,159.06 L507.43,163.37 L507.56,166.13 L507.70,163.18 L507.83,160.44 L507.96,158.10 L508.10,159.49 L508.23,158.06 L508.37,167.28 L508.50,162.43 L508.64,160.37 L508.77,159.76 L508.91,160.44 L509.04,162.45 L509.18,160.00 L509.31,167.93 L509.45,161.55 L509.58,161.52 L509.72,164.48 L509.85,167.59 L509.99,167.32 L510.12,162.57 L510.26,164.63 L510.39,164.42 L510.53,165.51 L510.66,164.86 L510.80,161.74 L510.93,160.98 L511.07,164.88 L511.20,161.34 L511.34,168.19 L511.47,164.74 L511.61,161.99 L511.74,163.94 L511.88,163.52 L512.01,164.60 L512.15,167.54 L512.28,161.26 L512.41,160.21 L512.55,166.15 L512.68,164.86 L512.82,165.84 L512.95,166.67 L513.09,165.08 L513.22,167.76 L513.36,163.34 L513.49,165.96 L513.63,163.66 L513.76,162.94 L513.90,167.66 L514.03,167.61 L514.17,161.01 L514.30,163.27 L514.44,167.11 L514.57,169.25 L514.71,164.71 L514.84,166.07 L514.98,162.88 L515.11,173.39 L515.25,168.05 L515.38,169.25 L515.52,168.69 L515.65,169.50 L515.79,168.72 L515.92,166.28 L516.06,169.23 L516.19,167.54 L516.33,165.49 L516.46,165.53 L516.60,166.12 L516.73,169.39 L516.86,171.12 L517.00,168.18 L517.13,165.97 L517.27,167.63 L517.40,166.70 L517.54,173.14 L517.67,170.86 L517.81,171.61 L517.94,169.13 L518.08,166.93 L518.21,171.60 L518.35,172.96 L518.48,170.18 L518.62,168.65 L518.75,171.66 L518.89,167.88 L519.02,170.98 L519.16,167.13 L519.29,166.52 L519.43,170.68 L519.56,164.75 L519.70,174.39 L519.83,168.66 L519.97,169.54 L520.10,166.53 L520.24,164.66 L520.37,164.97 L520.51,171.02 L520.64,166.74 L520.78,172.94 L520.91,173.80 L521.05,169.34 L521.18,174.58 L521.31,168.40 L521.45,173.32 L521.58,169.80 L521.72,173.03 L521.85,181.97 L521.99,172.29 L522.12,169.49 L522.26,170.44 L522.39,172.54 L522.53,171.40 L522.66,171.94 L522.80,173.03 L522.93,171.24 L523.07,167.56 L523.20,172.81 L523.34,173.19 L523.47,169.48 L523.61,172.58 L523.74,168.11 L523.88,175.54 L524.01,171.15 L524.15,171.65 L524.28,175.13 L524.42,171.64 L524.55,173.69 L524.69,169.39 L524.82,170.73 L524.96,168.62 L525.09,171.85 L525.23,175.22 L525.36,173.15 L525.50,174.98 L525.63,169.98 L525.76,170.44 L525.90,171.62 L526.03,174.46 L526.17,173.96 L526.30,173.05 L526.44,174.83 L526.57,172.84 L526.71,173.27 L526.84,176.87 L526.98,171.92 L527.11,172.72 L527.25,177.92 L527.38,173.98 L527.52,168.25 L527.65,172.25 L527.79,179.14 L527.92,168.03 L528.06,171.08 L528.19,171.37 L528.33,178.56 L528.46,175.26 L528.60,173.70 L528.73,171.07 L528.87,175.52 L529.00,174.93 L529.14,172.86 L529.27,176.65 L529.41,171.93 L529.54,175.51 L529.68,175.84 L529.81,175.29 L529.95,174.77 L530.08,170.53 L530.22,175.42 L530.35,172.61 L530.48,175.52 L530.62,176.71 L530.75,173.73 L530.89,172.87 L531.02,178.29 L531.16,176.65 L531.29,174.08 L531.43,167.85 L531.56,175.76 L531.70,177.62 L531.83,178.99 L531.97,174.26 L532.10,174.41 L532.24,175.01 L532.37,178.47 L532.51,173.18 L532.64,176.06 L532.78,173.96 L532.91,177.20 L533.05,172.41 L533.18,177.60 L533.32,175.34 L533.45,176.12 L533.59,178.18 L533.72,179.88 L533.86,172.38 L533.99,179.63 L534.13,178.50 L534.26,176.29 L534.40,175.49 L534.53,177.70 L534.67,180.69 L534.80,175.74 L534.93,175.07 L535.07,177.59 L535.20,183.25 L535.34,179.24 L535.47,179.98 L535.61,176.41 L535.74,174.20 L535.88,177.19 L536.01,181.84 L536.15,172.96 L536.28,176.65 L536.42,172.93 L536.55,178.37 L536.69,180.47 L536.82,174.90 L536.96,177.17 L537.09,181.85 L537.23,178.14 L537.36,175.14 L537.50,175.00 L537.63,173.20 L537.77,180.67 L537.90,176.69 L538.04,181.53 L538.17,181.10 L538.31,177.10 L538.44,177.51 L538.58,181.04 L538.71,179.43 L538.85,179.80 L538.98,174.77 L539.12,181.60 L539.25,176.94 L539.38,173.29 L539.52,177.75 L539.65,169.68 L539.79,185.09 L539.92,178.57 L540.06,176.09 L540.19,185.33 L540.33,180.17 L540.46,181.25 L540.60,177.00 L540.73,177.25 L540.87,183.92 L541.00,179.32 L541.14,178.67 L541.27,178.80 L541.41,184.39 L541.54,178.71 L541.68,182.01 L541.81,181.11 L541.95,180.57 L542.08,178.18 L542.22,182.33 L542.35,184.91 L542.49,180.56 L542.62,178.31 L542.76,177.38 L542.89,181.38 L543.03,180.21 L543.16,180.71 L543.30,181.08 L543.43,177.18 L543.57,183.25 L543.70,181.85 L543.83,181.09 L543.97,181.96 L544.10,183.87 L544.24,181.61 L544.37,179.26 L544.51,184.69 L544.64,180.49 L544.78,179.77 L544.91,177.61 L545.05,181.84 L545.18,179.09 L545.32,180.56 L545.45,183.19 L545.59,182.15 L545.72,184.82 L545.86,182.99 L545.99,181.16 L546.13,181.42 L546.26,178.45 L546.40,184.13 L546.53,182.53 L546.67,181.44 L546.80,184.84 L546.94,182.91 L547.07,181.47 L547.21,178.75 L547.34,183.99 L547.48,183.52 L547.61,183.09 L547.75,181.85 L547.88,180.85 L548.02,182.52 L548.15,183.80 L548.28,182.91 L548.42,182.92 L548.55,182.80 L548.69,184.32 L548.82,184.10 L548.96,181.54 L549.09,185.62 L549.23,185.77 L549.36,185.88 L549.50,183.43 L549.63,183.32 L549.77,180.81 L549.90,185.96 L550.04,178.34 L550.17,183.08 L550.31,183.30 L550.44,186.57 L550.58,184.38 L550.71,181.91 L550.85,180.77 L550.98,182.72 L551.12,185.03 L551.25,184.98 L551.39,184.40 L551.52,183.19 L551.66,184.55 L551.79,187.85 L551.93,182.36 L552.06,185.46 L552.20,189.77 L552.33,188.30 L552.47,184.43 L552.60,187.49 L552.74,183.82 L552.87,185.93 L553.00,190.14 L553.14,184.23 L553.27,181.64 L553.41,188.14 L553.54,191.55 L553.68,185.00 L553.81,186.64 L553.95,190.64 L554.08,185.41 L554.22,188.01 L554.35,186.74 L554.49,181.87 L554.62,188.00 L554.76,186.68 L554.89,189.73 L555.03,192.92 L555.16,189.26 L555.30,186.55 L555.43,188.82 L555.57,188.25 L555.70,190.52 L555.84,184.06 L555.97,184.88 L556.11,182.62 L556.24,189.76 L556.38,188.17 L556.51,186.60 L556.65,186.45 L556.78,186.93 L556.92,186.07 L557.05,187.76 L557.19,187.38 L557.32,192.47 L557.45,189.71 L557.59,186.75 L557.72,187.45 L557.86,192.27 L557.99,190.37 L558.13,190.03 L558.26,191.24 L558.40,193.55 L558.53,186.24 L558.67,187.57 L558.80,185.01 L558.94,191.03 L559.07,188.78 L559.21,188.08 L559.34,187.92 L559.48,185.66 L559.61,189.73 L559.75,188.77 L559.88,193.60 L560.02,187.56 L560.15,187.06 L560.29,197.40 L560.42,189.60 L560.56,189.21 L560.69,188.80 L560.83,190.45 L560.96,192.98 L561.10,192.98 L561.23,192.50 L561.37,190.39 L561.50,187.24 L561.64,192.04 L561.77,195.41 L561.90,194.29 L562.04,191.07 L562.17,193.72 L562.31,190.63 L562.44,191.58 L562.58,188.51 L562.71,191.02 L562.85,192.30 L562.98,191.54 L563.12,185.89 L563.25,197.14 L563.39,195.71 L563.52,191.45 L563.66,190.38 L563.79,190.66 L563.93,190.24 L564.06,192.62 L564.20,193.72 L564.33,193.15 L564.47,193.25 L564.60,193.22 L564.74,192.52 L564.87,190.96 L565.01,197.59 L565.14,195.86 L565.28,190.72 L565.41,190.80 L565.55,191.71 L565.68,193.43 L565.82,196.76 L565.95,196.17 L566.09,196.38 L566.22,196.50 L566.35,196.62 L566.49,195.70 L566.62,195.02 L566.76,200.71 L566.89,189.31 L567.03,193.67 L567.16,198.88 L567.30,192.71 L567.43,192.55 L567.57,196.99 L567.70,194.57 L567.84,193.14 L567.97,198.63 L568.11,196.28 L568.24,196.79 L568.38,193.42 L568.51,196.40 L568.65,196.23 L568.78,197.45 L568.92,194.63 L569.05,198.68 L569.19,196.29 L569.32,197.82 L569.46,193.09 L569.59,198.00 L569.73,194.48 L569.86,195.56 L570.00,194.69 L570.13,196.74 L570.27,193.82 L570.40,198.11 L570.54,198.14 L570.67,194.98 L570.80,197.78 L570.94,200.65 L571.07,200.79 L571.21,200.80 L571.34,197.86 L571.48,201.02 L571.61,197.53 L571.75,200.29 L571.88,205.13 L572.02,202.77 L572.15,203.49 L572.29,200.26 L572.42,202.62 L572.56,199.47 L572.69,199.10 L572.83,203.81 L572.96,205.22 L573.10,199.21 L573.23,201.32 L573.37,202.94 L573.50,200.40 L573.64,200.27 L573.77,201.08 L573.91,204.79 L574.04,201.98 L574.18,203.78 L574.31,203.23 L574.45,203.97 L574.58,205.16 L574.72,204.28 L574.85,204.97 L574.99,206.72 L575.12,206.42 L575.25,207.45 L575.39,208.72 L575.52,209.73 L575.66,209.47 L575.79,210.93 L575.93,212.47 L576.06,213.85 L576.20,212.15 L576.33,215.43 L576.47,215.91 L576.60,215.23 L576.74,215.74 L576.87,217.97 L577.01,218.14 L577.14,220.15 L577.28,220.72 L577.41,220.59 L577.55,221.76 L577.68,222.75 L577.82,223.83 L577.95,225.25 L578.09,225.97 L578.22,225.62 L578.36,226.02 L578.49,228.76 L578.63,228.21 L578.76,228.81 L578.90,228.41 L579.03,230.60 L579.17,230.18 L579.30,231.19 L579.44,233.57 L579.57,232.66 L579.71,233.86 L579.84,233.44 L579.97,234.66 L580.11,236.04 L580.24,235.91 L580.38,237.84 L580.51,237.76 L580.65,238.08 L580.78,240.37 L580.92,239.64 L581.05,241.41 L581.19,241.97 L581.32,240.81 L581.46,242.19 L581.59,242.23 L581.73,242.18 L581.86,243.23 L582.00,243.74 L582.13,244.90 L582.27,245.58 L582.40,244.41 L582.54,245.38 L582.67,246.53 L582.81,247.46 L582.94,247.94 L583.08,248.42 L583.21,247.77 L583.35,249.50 L583.48,248.46 L583.62,248.59 L583.75,249.70 L583.89,250.99 L584.02,252.07 L584.16,249.20 L584.29,251.95 L584.42,250.65 L584.56,251.57 L584.69,251.87 L584.83,251.75 L584.96,252.40 L585.10,253.51 L585.23,253.74 L585.37,253.97 L585.50,254.17 L585.64,254.32 L585.77,254.59 L585.91,254.86 L586.04,254.98 L586.18,255.23 L586.31,255.46 L586.45,255.68 L586.58,255.91 L586.72,256.14 L586.85,256.25 L586.99,256.46 L587.12,256.75 L587.26,256.96 L587.39,257.17 L587.53,257.19 L587.66,257.50 L587.80,257.57 L587.93,257.97 L588.07,258.12 L588.20,258.39 L588.34,258.51 L588.47,258.64 L588.61,258.62 L588.74,258.75 L588.87,258.70 L589.01,258.83 L589.14,258.90 L589.28,258.94 L589.41,259.13 L589.55,259.09 L589.68,259.15 L589.82,259.17 L589.95,259.27 L590.09,259.34 L590.22,259.30 L590.36,259.41 L590.49,259.46 L590.63,259.50 L590.76,259.62 L590.90,259.62 L591.03,259.70 L591.17,259.79 L591.30,259.86 L591.44,259.92 L591.57,260.07 L591.71,260.00 L591.84,260.09 L591.98,260.09 L592.11,260.06 L592.25,260.32 L592.38,260.38 L592.52,260.35 L592.65,260.43 L592.79,260.56 L592.92,260.56 L593.06,260.65 L593.19,260.56 L593.32,260.68 L593.46,260.68 L593.59,260.66 L593.73,260.60 L593.86,260.64 L594.00,260.66 L594.13,260.68 L594.27,260.67 L594.40,260.67 L594.54,260.70 L594.67,260.76 L594.81,260.61 L594.94,260.65 L595.08,260.65 L595.21,260.69 L595.35,260.65 L595.48,260.77 L595.62,260.75 L595.75,260.75 L595.89,260.73 L596.02,260.78 L596.16,260.79 L596.29,260.80 L596.43,260.76 L596.56,260.83 L596.70,260.84 L596.83,260.88 L596.97,260.68 L597.10,260.81 L597.24,260.78 L597.37,260.89 L597.51,260.79 L597.64,260.75 L597.77,260.80 L597.91,260.98 L598.04,260.91 L598.18,260.90 L598.31,260.92 L598.45,261.02 L598.58,260.96 L598.72,260.82 L598.85,260.99 L598.99,260.95 L599.12,260.87 L599.26,260.99 L599.39,260.91 L599.53,260.98 L599.66,260.99 L599.80,260.96 L599.93,261.03 L600.07,260.95 L600.20,261.01 L600.34,260.97 L600.47,260.99 L600.61,261.09 L600.74,261.01 L600.88,260.95 L601.01,260.99 L601.15,260.96 L601.28,260.93 L601.42,261.01 L601.55,261.00 L601.69,261.00 L601.82,260.97 L601.96,261.02 L602.09,261.05 L602.22,260.97 L602.36,261.00 L602.49,261.00 L602.63,261.06 L602.76,261.05 L602.90,260.97 L603.03,261.00 L603.17,260.93 L603.30,260.95 L603.44,261.00 L603.57,261.03 L603.71,261.05 L603.84,260.99 L603.98,260.94 L604.11,261.02 L604.25,260.99 L604.38,261.02 L604.52,261.01 L604.65,261.03 L604.79,261.03 L604.92,261.04 L605.06,260.98 L605.19,261.01 L605.33,260.98 L605.46,261.00 L605.60,261.09 L605.73,261.02 L605.87,260.94 L606.00,261.07 L606.14,261.05 L606.27,261.02 L606.41,261.01 L606.54,261.02 L606.67,260.99 L606.81,260.97 L606.94,261.07 L607.08,260.98 L607.21,260.98 L607.35,260.98 L607.48,261.09 L607.62,261.04 L607.75,260.98 L607.89,261.00 L608.02,261.02 L608.16,261.04 L608.29,260.92 L608.43,261.04 L608.56,260.99 L608.70,260.97 L608.83,260.98 L608.97,261.04 L609.10,261.08 L609.24,261.01 L609.37,261.03 L609.51,260.96 L609.64,261.02 L609.78,261.04 L609.91,260.93 L610.05,260.98 L610.18,261.04 L610.32,260.92 L610.45,260.98 L610.59,261.03 L610.72,260.92 L610.86,260.98 L610.99,261.00 L611.13,261.04 L611.26,260.97 L611.39,261.05 L611.53,261.01 L611.66,261.06 L611.80,260.93 L611.93,261.02 L612.07,261.02 L612.20,260.92 L612.34,260.94 L612.47,260.95 L612.61,260.98 L612.74,261.04 L612.88,260.92 L613.01,260.98 L613.15,260.94 L613.28,260.93 L613.42,261.07 L613.55,261.00 L613.69,261.08 L613.82,261.02 L613.96,260.96 L614.09,260.91 L614.23,261.10 L614.36,260.98 L614.50,260.95 L614.63,260.92 L614.77,261.01 L614.90,260.97 L615.04,260.98 L615.17,261.01 L615.31,261.00 L615.44,261.04 L615.58,260.90 L615.71,260.98 L615.84,261.03 L615.98,261.01 L616.11,261.05 L616.25,260.99 L616.38,261.00 L616.52,260.95 L616.65,261.07 L616.79,260.93 L616.92,261.01 L617.06,260.96 L617.19,261.02 L617.33,261.04 L617.46,260.92 L617.60,260.99 L617.73,260.92 L617.87,261.07 L618.00,260.98 L618.14,260.93 L618.27,260.97 L618.41,261.08 L618.54,261.07 L618.68,261.06 L618.81,260.96 L618.95,260.99 L619.08,260.97 L619.22,260.97 L619.35,261.07 L619.49,260.95 L619.62,261.13 L619.76,261.06 L619.89,261.03 L620.03,261.02 L620.16,261.03 L620.29,261.05 L620.43,261.07 L620.56,261.13 L620.70,260.98 L620.83,260.95 L620.97,261.05 L621.10,260.98 L621.24,260.93 L621.37,260.99 L621.51,261.00 L621.64,261.04 L621.78,261.05 L621.91,260.97 L622.05,260.96 L622.18,260.98 L622.32,260.94 L622.45,260.99 L622.59,261.02 L622.72,261.00 L622.86,260.92 L622.99,260.94 L623.13,261.06 L623.26,260.98 L623.40,261.04 L623.53,261.03 L623.67,260.98 L623.80,260.95 L623.94,261.01 L624.07,260.96 L624.21,260.99 L624.34,261.01 L624.48,260.97 L624.61,260.99 L624.74,260.99 L624.88,260.94 L625.01,260.99 L625.15,260.97 L625.28,260.91 L625.42,260.98 L625.55,260.99 L625.69,260.97 L625.82,260.90 L625.96,261.04 L626.09,261.03 L626.23,261.01 L626.36,261.02 L626.50,260.94 L626.63,261.01 L626.77,260.96 L626.90,261.10 L627.04,260.98 L627.17,260.97 L627.31,260.93 L627.44,260.94 L627.58,260.97 L627.71,261.03 L627.85,261.03 L627.98,261.01 L628.12,260.91 L628.25,261.05 L628.39,260.96 L628.52,261.08 L628.66,260.89 L628.79,261.04 L628.93,261.05 L629.06,260.94 L629.19,261.12 L629.33,261.01 L629.46,261.05 L629.60,260.96 L629.73,261.00 L629.87,260.94 L630.00,260.99 L630.14,261.00 L630.27,261.01 L630.41,261.07 L630.54,261.02 L630.68,261.01 L630.81,261.00 L630.95,261.10 L631.08,260.97 L631.22,261.06 L631.35,261.06 L631.49,260.96 L631.62,261.02 L631.76,260.99 L631.89,261.10 L632.03,261.12 L632.16,260.93 L632.30,260.95 L632.43,260.99 L632.57,261.08 L632.70,261.05 L632.84,261.02 L632.97,260.93 L633.11,260.96 L633.24,260.87 L633.38,260.93 L633.51,261.02 L633.64,261.04 L633.78,260.94 L633.91,261.01 L634.05,261.08 L634.18,261.01 L634.32,260.99 L634.45,261.03 L634.59,261.03 L634.72,261.00 L634.86,260.97 L634.99,260.98 L635.13,261.00 L635.26,260.97 L635.40,261.06 L635.53,261.04 L635.67,261.05 L635.80,260.97 L635.94,261.08 L636.07,261.05 L636.21,261.02 L636.34,260.99 L636.48,261.11 L636.61,260.97 L636.75,260.97 L636.88,260.96 L637.02,261.01 L637.15,261.02 L637.29,261.05 L637.42,260.99 L637.56,260.92 L637.69,261.02 L637.83,261.05 L637.96,261.00 L638.10,260.99 L638.23,261.03 L638.36,261.07 L638.50,261.00 L638.63,260.93 L638.77,260.97 L638.90,260.99 L639.04,260.91 L639.17,261.04 L639.31,260.96 L639.44,261.02 L639.58,261.01 L639.71,260.99 L639.85,261.08 L639.98,260.97 L640.12,260.97 L640.25,261.01 L640.39,261.04 L640.52,261.06 L640.66,260.95 L640.79,261.03 L640.93,261.03 L641.06,261.10 L641.20,260.99 L641.33,261.01 L641.47,260.97 L641.60,260.93 L641.74,261.00 L641.87,261.04 L642.01,260.95 L642.14,260.97 L642.28,260.94 L642.41,261.06 L642.55,260.97 L642.68,261.03 L642.81,260.96 L642.95,261.00 L643.08,260.97 L643.22,260.89 L643.35,261.00 L643.49,260.93 L643.62,260.90 L643.76,260.99 L643.89,260.98 L644.03,261.01 L644.16,260.99 L644.30,260.91 L644.43,261.01 L644.57,261.06 L644.70,260.94 L644.84,261.00 L644.97,261.07 L645.11,261.01 L645.24,260.98 L645.38,260.98 L645.51,261.01 L645.65,260.99 L645.78,261.03 L645.92,260.93 L646.05,261.05 L646.19,260.98 L646.32,260.98 L646.46,260.97 L646.59,260.94 L646.73,260.97 L646.86,260.95 L647.00,260.98 L647.13,261.03 L647.26,261.05 L647.40,261.01 L647.53,260.97 L647.67,260.98 L647.80,261.03 L647.94,261.05 L648.07,260.98 L648.21,260.99 L648.34,261.01 L648.48,261.01 L648.61,261.05 L648.75,260.86 L648.88,261.01 L649.02,260.97 L649.15,260.89 L649.29,261.01 L649.42,261.00 L649.56,261.02 L649.69,260.94 L649.83,261.10 L649.96,261.01 L650.10,260.98 L650.23,261.07 L650.37,261.03 L650.50,261.05 L650.64,261.06 L650.77,260.90 L650.91,261.08 L651.04,260.98 L651.18,261.01 L651.31,261.04 L651.45,260.98 L651.58,261.02 L651.71,261.04 L651.85,261.00 L651.98,261.02 L652.12,260.92 L652.25,260.94 L652.39,260.95 L652.52,261.02 L652.66,261.18 L652.79,261.01 L652.93,260.99 L653.06,261.00 L653.20,261.05 L653.33,260.98 L653.47,260.95 L653.60,261.05 L653.74,261.00 L653.87,261.04 L654.01,260.91 L654.14,260.93 L654.28,261.03 L654.41,260.91 L654.55,261.02 L654.68,260.99 L654.82,261.01 L654.95,261.02 L655.09,261.01 L655.22,261.02 L655.36,260.98 L655.49,261.00 L655.63,261.14 L655.76,260.93 L655.90,261.03 L656.03,261.02 L656.16,260.97 L656.30,261.01 L656.43,260.99 L656.57,261.04 L656.70,260.96 L656.84,260.89 L656.97,260.97 L657.11,261.03 L657.24,261.12 L657.38,261.05 L657.51,260.95 L657.65,260.99 L657.78,260.90 L657.92,260.99 L658.05,260.98 L658.19,260.92 L658.32,261.02 L658.46,261.01 L658.59,260.99 L658.73,261.02 L658.86,261.10 L659.00,261.01 L659.13,260.98 L659.27,261.04 L659.40,260.92 L659.54,261.04 L659.67,260.96 L659.81,260.96 L659.94,261.01 L660.08,261.08 L660.21,260.96 L660.35,261.05 L660.48,261.02 L660.62,260.93 L660.75,261.04 L660.88,260.96 L661.02,260.93 L661.15,260.86 L661.29,260.97 L661.42,261.03 L661.56,261.00 L661.69,261.07 L661.83,261.01 L661.96,260.97 L662.10,260.96 L662.23,261.01 L662.37,260.90 L662.50,260.90 L662.64,260.96 L662.77,261.03 L662.91,261.01 L663.04,261.00 L663.18,260.99 L663.31,260.97 L663.45,260.98 L663.58,260.92 L663.72,261.04 L663.85,261.00 L663.99,261.00 L664.12,261.11 L664.26,261.02 L664.39,261.01 L664.53,261.02 L664.66,261.01 L664.80,260.94 L664.93,260.99 L665.07,261.07 L665.20,261.05 L665.33,260.99 L665.47,261.03 L665.60,260.98 L665.74,261.02 L665.87,260.97 L666.01,260.90 L666.14,261.13 L666.28,261.04 L666.41,261.07 L666.55,260.96 L666.68,260.86 L666.82,261.00 L666.95,261.03 L667.09,260.99 L667.22,261.08 L667.36,260.97 L667.49,261.06 L667.63,261.05 L667.76,260.95 L667.90,261.03 L668.03,260.99 L668.17,261.05 L668.30,260.97 L668.44,261.01 L668.57,261.03 L668.71,260.87 L668.84,260.91 L668.98,261.07 L669.11,260.99 L669.25,261.05 L669.38,261.01 L669.52,260.94 L669.65,261.02 L669.78,260.96 L669.92,260.99 L670.05,260.98 L670.19,261.02 L670.32,260.93 L670.46,260.95 L670.59,260.89 L670.73,261.10 L670.86,260.95 L671.00,260.96 L671.13,260.95 L671.27,260.97 L671.40,260.98 L671.54,261.03 L671.67,261.01 L671.81,261.02 L671.94,260.97 L672.08,261.00 L672.21,261.06 L672.35,261.00 L672.48,261.01 L672.62,260.90 L672.75,261.02 L672.89,261.01 L673.02,261.06 L673.16,260.87 L673.29,261.00 L673.43,260.91 L673.56,261.00 L673.70,260.97 L673.83,261.01 L673.97,261.03" stroke="#f00" stroke-width="0.6" fill="none"/>
<ellipse cx="580.4" cy="95.2" rx="18.2" ry="18.2" fill="none" stroke="#c0282c" stroke-width="1.1"/>
<text class="b" x="580.4" y="98.4" text-anchor="middle"><tspan font-size="14.2">Cl</tspan></text>
<ellipse cx="635.6" cy="126.5" rx="18.0" ry="17.5" fill="none" stroke="#c0282c" stroke-width="1.1"/>
<text class="b" x="635.6" y="126.3" text-anchor="middle"><tspan font-size="9.6">Mn</tspan></text>
<ellipse cx="641.5" cy="184.7" rx="18.0" ry="18.2" fill="none" stroke="#c0282c" stroke-width="1.1"/>
<text class="b" x="641.5" y="188.2" text-anchor="middle"><tspan font-size="10.2">C</tspan><tspan font-size="12.8">u</tspan></text>
<ellipse cx="461.4" cy="204.4" rx="15.2" ry="15.6" fill="none" stroke="#c0282c" stroke-width="1.1"/>
<text class="b" x="461.4" y="209.8" text-anchor="middle"><tspan font-size="14.5">O</tspan></text>
<ellipse cx="500.8" cy="223.4" rx="18.3" ry="15.8" fill="none" stroke="#c0282c" stroke-width="1.1"/>
<text class="b" x="500.8" y="228.1" text-anchor="middle"><tspan font-size="10.6">Z</tspan><tspan font-size="13.6">n</tspan></text>
<defs><marker id="ah" viewBox="0 0 10 10" refX="9" refY="5" markerWidth="5.6" markerHeight="5.6" orient="auto-start-reverse" markerUnits="userSpaceOnUse"><path d="M0,1 L10,5 L0,9 z" fill="#111"/></marker></defs>
<line x1="493.8" y1="160.6" x2="470.3" y2="188.8" stroke="#222" stroke-width="0.8" marker-end="url(#ah)"/>
<line x1="538.1" y1="177.8" x2="567.9" y2="113.4" stroke="#222" stroke-width="0.8" marker-end="url(#ah)"/>
<line x1="574.7" y1="204.5" x2="611.0" y2="134.5" stroke="#222" stroke-width="0.8" marker-end="url(#ah)"/>
<line x1="574.7" y1="204.7" x2="622.8" y2="192.3" stroke="#222" stroke-width="0.8" marker-end="url(#ah)"/>
<line x1="570.5" y1="198.5" x2="519.5" y2="217.5" stroke="#222" stroke-width="0.8" marker-end="url(#ah)"/>
</svg></body></html>
